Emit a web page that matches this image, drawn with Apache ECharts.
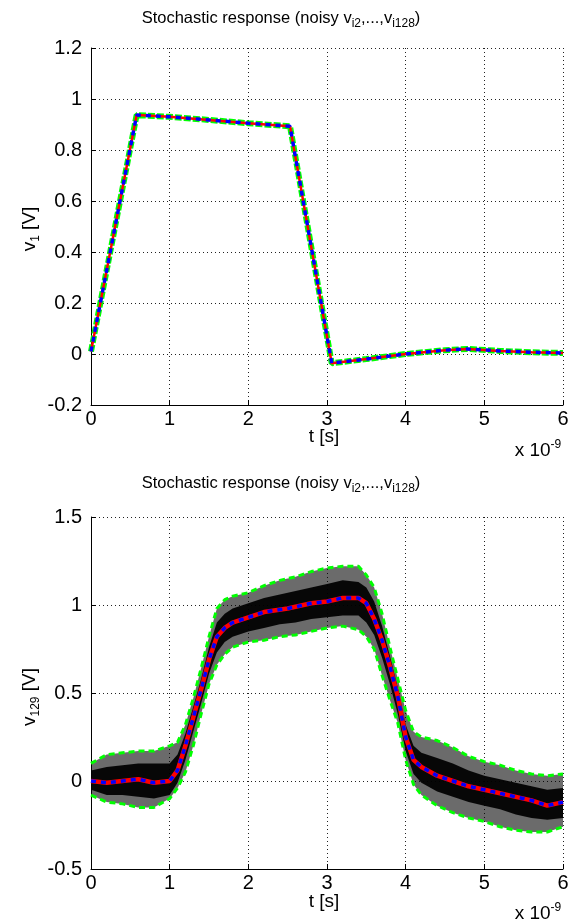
<!DOCTYPE html>
<html>
<head>
<meta charset="utf-8">
<script src="https://cdn.jsdelivr.net/npm/echarts@6/dist/echarts.min.js"></script>
<style>html,body{margin:0;padding:0;background:#fff}#c{width:580px;height:924px}</style>
</head>
<body>
<div id="c"></div>
<script>
// ---------- Top plot data (t in ns, v1 in V) ----------
const tTop = [0, 0.58, 1.0, 1.5, 2.0, 2.53, 3.06, 3.5, 4.0, 4.5, 4.78, 5.2, 5.6, 6.0];
const v1Mean = [0.01, 0.937, 0.93, 0.918, 0.905, 0.893, -0.036, -0.02, 0.0, 0.015, 0.02, 0.012, 0.007, 0.004];

// ---------- Bottom plot data (t in ns, v129 in V) ----------
const tMean = [0,0.2,0.4,0.6,0.8,1.0,1.1,1.2,1.3,1.4,1.5,1.6,1.7,1.8,2.0,2.2,2.5,2.8,3.0,3.2,3.4,3.5,3.6,3.7,3.8,3.9,4.0,4.1,4.2,4.4,4.6,4.8,5.0,5.2,5.4,5.6,5.8,6.0];
const v129Mean = [0.0,-0.01,0.0,0.01,-0.01,0.0,0.06,0.2,0.36,0.52,0.69,0.82,0.87,0.9,0.93,0.96,0.98,1.01,1.02,1.04,1.04,1.01,0.92,0.8,0.65,0.48,0.25,0.12,0.08,0.03,0.0,-0.03,-0.05,-0.07,-0.09,-0.11,-0.14,-0.12];

const tBand = [0,0.2,0.4,0.6,0.8,1.0,1.1,1.2,1.3,1.4,1.5,1.6,1.7,1.8,2.0,2.2,2.4,2.6,2.8,3.0,3.2,3.4,3.5,3.6,3.7,3.8,3.9,4.0,4.1,4.2,4.4,4.6,4.8,5.0,5.2,5.4,5.6,5.8,6.0];
const v129Upper = [0.10,0.15,0.16,0.17,0.17,0.2,0.22,0.32,0.47,0.64,0.82,0.98,1.03,1.05,1.07,1.11,1.14,1.16,1.19,1.21,1.22,1.22,1.17,1.1,0.95,0.76,0.58,0.4,0.28,0.25,0.23,0.19,0.14,0.11,0.09,0.06,0.04,0.03,0.04];
const v129Lower = [-0.08,-0.12,-0.13,-0.15,-0.15,-0.1,-0.04,0.05,0.2,0.38,0.55,0.66,0.72,0.76,0.79,0.8,0.82,0.83,0.85,0.87,0.88,0.86,0.82,0.75,0.6,0.46,0.33,0.12,-0.02,-0.08,-0.14,-0.18,-0.21,-0.23,-0.26,-0.28,-0.29,-0.29,-0.26];
const coreUpper = [0.06,0.08,0.09,0.1,0.1,0.1,0.15,0.27,0.42,0.58,0.76,0.9,0.95,0.98,1.01,1.04,1.06,1.08,1.1,1.12,1.14,1.13,1.1,1.02,0.88,0.71,0.53,0.32,0.2,0.16,0.13,0.1,0.06,0.03,0.01,-0.01,-0.03,-0.05,-0.04];
const coreLower = [-0.05,-0.08,-0.08,-0.09,-0.1,-0.08,-0.01,0.12,0.28,0.44,0.61,0.73,0.79,0.82,0.85,0.87,0.89,0.9,0.92,0.93,0.94,0.94,0.9,0.83,0.7,0.55,0.38,0.17,0.04,-0.01,-0.06,-0.09,-0.12,-0.14,-0.16,-0.19,-0.21,-0.22,-0.21];

const xTicks = [0,1,2,3,4,5,6];
const yTopRange = [-0.2, 1.2];
const yBotRange = [-0.5, 1.5];

// ---------- build ----------
const pairs = (xs, ys) => xs.map((x, i) => [x, ys[i]]);

const FONT = 'Liberation Sans, Arial, sans-serif';
const TICK_FS = 20;
const LAB_FS = 19;
const TITLE_FS = 16.5;
const gridLine = { show: true, lineStyle: { color: '#222', type: [1, 3], width: 1 } };

function xAxis(gi) {
  return {
    type: 'value', gridIndex: gi, min: xTicks[0], max: xTicks[xTicks.length - 1], interval: 1,
    axisLine: { show: true, onZero: false, lineStyle: { color: '#000', width: 1 } },
    axisTick: { show: true, inside: true, length: 5, lineStyle: { color: '#000' } },
    axisLabel: { color: '#000', fontSize: TICK_FS, fontFamily: FONT, margin: 4 },
    splitLine: gridLine
  };
}
function yAxis(gi, rng, step) {
  return {
    type: 'value', gridIndex: gi, min: rng[0], max: rng[1], interval: step,
    axisLine: { show: true, onZero: false, lineStyle: { color: '#000', width: 1 } },
    axisTick: { show: true, inside: true, length: 5, lineStyle: { color: '#000' } },
    axisLabel: { color: '#000', fontSize: TICK_FS, fontFamily: FONT, margin: 9 },
    splitLine: gridLine
  };
}

// band drawn as one polygon through the axis scales
function bandSeries(xs, lo, hi, color) {
  return {
    type: 'custom', xAxisIndex: 1, yAxisIndex: 1, silent: true, animation: false,
    data: xs.map((x, i) => [x, lo[i], hi[i]]),
    encode: { x: 0, y: [1, 2] },
    renderItem: function (params, api) {
      if (params.dataIndex !== 0) return null;
      const pts = [];
      for (let i = 0; i < xs.length; i++) pts.push(api.coord([xs[i], hi[i]]));
      for (let i = xs.length - 1; i >= 0; i--) pts.push(api.coord([xs[i], lo[i]]));
      return { type: 'polygon', shape: { points: pts }, style: { fill: color } };
    }
  };
}

const lineBase = { type: 'line', showSymbol: false, symbol: 'none', animation: false, silent: true };

const series = [
  // top
  Object.assign({}, lineBase, { xAxisIndex: 0, yAxisIndex: 0, data: pairs(tTop, v1Mean), lineStyle: { color: '#00ff00', width: 6, type: [7, 2] } }),
  Object.assign({}, lineBase, { xAxisIndex: 0, yAxisIndex: 0, data: pairs(tTop, v1Mean), lineStyle: { color: '#ff0000', width: 2.5 } }),
  Object.assign({}, lineBase, { xAxisIndex: 0, yAxisIndex: 0, data: pairs(tTop, v1Mean), lineStyle: { color: '#0000ff', width: 3.5, type: [5, 5] } }),
  // bottom cloud
  bandSeries(tBand, v129Lower, v129Upper, 'rgba(0,0,0,0.58)'),
  bandSeries(tBand, coreLower, coreUpper, 'rgba(0,0,0,0.93)'),
  // green bounds
  Object.assign({}, lineBase, { xAxisIndex: 1, yAxisIndex: 1, data: pairs(tBand, v129Upper), lineStyle: { color: '#00ff00', width: 3, type: [6, 4] } }),
  Object.assign({}, lineBase, { xAxisIndex: 1, yAxisIndex: 1, data: pairs(tBand, v129Lower), lineStyle: { color: '#00ff00', width: 3, type: [6, 4] } }),
  // mean lines
  Object.assign({}, lineBase, { xAxisIndex: 1, yAxisIndex: 1, data: pairs(tMean, v129Mean), lineStyle: { color: '#ff0000', width: 4.5 } }),
  Object.assign({}, lineBase, { xAxisIndex: 1, yAxisIndex: 1, data: pairs(tMean, v129Mean), lineStyle: { color: '#0000ff', width: 3.5, type: [5, 5] } })
];

const titleRich = {
  base: { fontSize: TITLE_FS, fontFamily: FONT, color: '#000' },
  sub: { fontSize: 12, fontFamily: FONT, color: '#000', padding: [11, 0, 0, 0], verticalAlign: 'bottom' }
};
const labRich = {
  b: { fontSize: LAB_FS, fontFamily: FONT, color: '#000' },
  sub: { fontSize: 12, fontFamily: FONT, color: '#000', padding: [12, 0, 0, 0], verticalAlign: 'bottom' },
  sup: { fontSize: 12, fontFamily: FONT, color: '#000', padding: [0, 0, 12, 0], verticalAlign: 'top' }
};
const titleText = '{base|Stochastic response (noisy v}{sub|i2}{base|,...,v}{sub|i128}{base|)}';

function txt(x, y, text, rich, rot) {
  return { type: 'text', x: x, y: y, rotation: rot || 0, silent: true,
    style: { text: text, rich: rich, align: 'center', verticalAlign: 'middle', fill: '#000', font: LAB_FS + 'px ' + FONT } };
}

const chart = echarts.init(document.getElementById('c'), null, { renderer: 'canvas' });
chart.setOption({
  animation: false,
  backgroundColor: '#fff',
  grid: [
    { left: 91, top: 48, width: 472, height: 357 },
    { left: 91, top: 517, width: 472, height: 352 }
  ],
  xAxis: [xAxis(0), xAxis(1)],
  yAxis: [yAxis(0, yTopRange, 0.2), yAxis(1, yBotRange, 0.5)],
  series: series,
  graphic: [
    txt(281, 18, titleText, titleRich),
    txt(281, 483, titleText, titleRich),
    txt(324, 437, '{b|t [s]}', labRich),
    txt(324, 902, '{b|t [s]}', labRich),
    txt(538, 451, '{b|x 10}{sup|-9}', labRich),
    txt(538, 914, '{b|x 10}{sup|-9}', labRich),
    txt(30, 229, '{b|v}{sub|1}{b| [V]}', labRich, Math.PI / 2),
    txt(30, 697, '{b|v}{sub|129}{b| [V]}', labRich, Math.PI / 2)
  ]
});
</script>
</body>
</html>
